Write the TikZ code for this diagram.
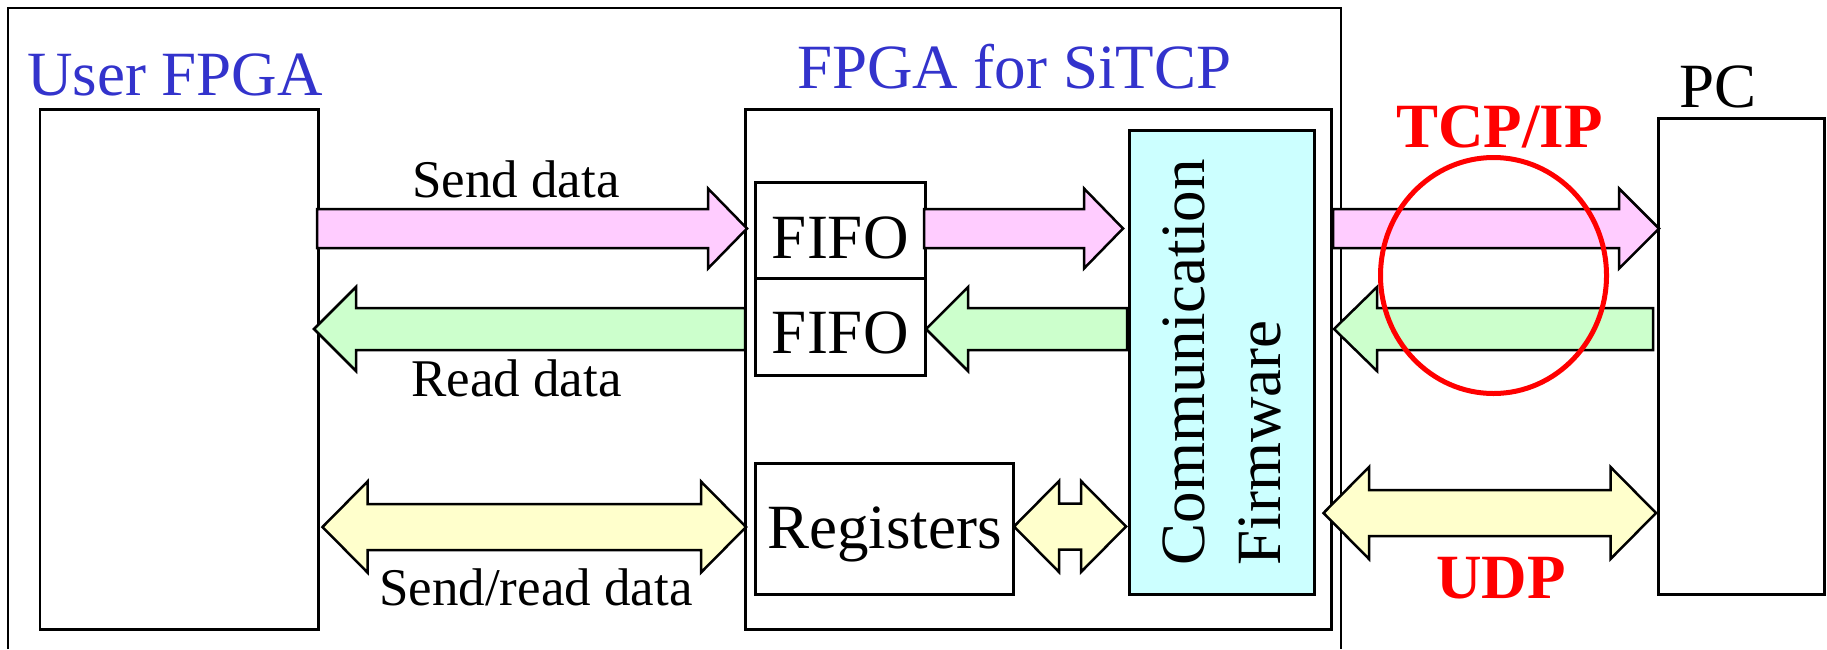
\documentclass[tikz,border=0pt]{standalone}
\usepackage{fontspec}
\setmainfont{Liberation Serif}
\usetikzlibrary{calc,shapes.geometric}
\definecolor{titleblue}{RGB}{51,51,204}
\definecolor{pinkfill}{RGB}{255,204,255}
\definecolor{greenfill}{RGB}{204,255,204}
\definecolor{yellowfill}{RGB}{255,255,204}
\definecolor{cyanfill}{RGB}{204,255,255}
\definecolor{markred}{RGB}{255,0,0}

% #1 fill, #2 from, #3 to (tip), #4 shaft half width, #5 head half width, #6 head length
\newcommand{\blkarrow}[6]{%
  \coordinate (ba-base) at ($(#3)!#6pt!(#2)$);
  \draw[arrowline, fill=#1] ($(#2)+(0,#4)$) -- ($(ba-base)+(0,#4)$) -- ($(ba-base)+(0,#5)$) -- (#3)
    -- ($(ba-base)+(0,-#5)$) -- ($(ba-base)+(0,-#4)$) -- ($(#2)+(0,-#4)$) -- cycle;
}
\newcommand{\dblarrowshape}[6]{%
  \coordinate (da-b1) at ($(#2)!#6pt!(#3)$);
  \coordinate (da-b2) at ($(#3)!#6pt!(#2)$);
  \draw[arrowline, fill=#1] (#2) -- ($(da-b1)+(0,#5)$) -- ($(da-b1)+(0,#4)$) -- ($(da-b2)+(0,#4)$)
    -- ($(da-b2)+(0,#5)$) -- (#3) -- ($(da-b2)+(0,-#5)$) -- ($(da-b2)+(0,-#4)$)
    -- ($(da-b1)+(0,-#4)$) -- ($(da-b1)+(0,-#5)$) -- cycle;
}

\begin{document}
\begin{tikzpicture}[x=1pt,y=-1pt,
  box/.style={draw=black, line width=2.5pt, fill=white, inner sep=0pt, anchor=north west},
  arrowline/.style={draw=black, line width=2.5pt, line join=miter},
  big/.style={font=\fontsize{63}{76}\selectfont, inner sep=0pt},
  small/.style={font=\fontsize{53}{64}\selectfont, inner sep=0pt},
  ]
\useasboundingbox (0,0) rectangle (1827,649);
\fill[white] (0,0) rectangle (1827,649);

% outer board
\draw[line width=2.5pt] (8,649) -- (8,8) -- (1341,8) -- (1341,649);

% boxes
\node[box, minimum width=278.5pt, minimum height=520pt] (user) at (38.5,108) {};
\node[box, minimum width=586pt, minimum height=520pt] (sitcp) at (744,108) {};
\node[box, minimum width=170pt, minimum height=96pt] (fifo1) at (754,181) {};
\node[box, minimum width=170pt, minimum height=97pt] (fifo2) at (754,277) {};
\node[box, minimum width=258pt, minimum height=131pt] (regs) at (754,462) {};
\node[box, fill=cyanfill, minimum width=185pt, minimum height=464pt] (comm) at (1128,129) {};
\node[box, minimum width=166pt, minimum height=476pt] (pc) at (1657,117) {};

% box texts
\node[big, anchor=base] (fifo1t) at ($(fifo1.center)+(0,28)$) {FIFO};
\node[big, anchor=base] (fifo2t) at ($(fifo2.center)+(0,27)$) {FIFO};
\node[big, anchor=base] (regst) at ($(regs.center)+(0,19.5)$) {Registers};
\node[big, rotate=90, align=left] (commt) at (comm.center) {Communication\\Firmware};

% titles and labels
\node[big, text=titleblue, anchor=base west] (userlbl) at (27,95) {User FPGA};
\node[big, text=titleblue, anchor=base west] (sitcplbl) at (797,88) {FPGA for SiTCP};
\node[big, anchor=base west] (pclbl) at (1679,107) {PC};
\node[small, anchor=base west] (sendlbl) at (412,197) {Send data};
\node[small, anchor=base west] (readlbl) at (411,396) {Read data};
\node[small, anchor=base west] (srlbl) at (379,605) {Send/read data};

% arrow end points
\coordinate (p1a) at (317,228.5);  \coordinate (p1b) at (747,228.5);
\coordinate (p2a) at (924,228.5);  \coordinate (p2b) at (1123,228.5);
\coordinate (p3a) at (1333,228.5); \coordinate (p3b) at (1659,228.5);
\coordinate (g1a) at (745,329);    \coordinate (g1b) at (314,329);
\coordinate (g2a) at (1127,329);   \coordinate (g2b) at (926,329);
\coordinate (g3a) at (1653,329);   \coordinate (g3b) at (1334,329);
\coordinate (y1a) at (322.5,527);  \coordinate (y1b) at (746,527);
\coordinate (y2a) at (1014,526.5); \coordinate (y2b) at (1126,526.5);
\coordinate (y3a) at (1323.5,513); \coordinate (y3b) at (1656,513);

% pink (send) arrows
\blkarrow{pinkfill}{p1a}{p1b}{19.5}{40}{39}
\blkarrow{pinkfill}{p2a}{p2b}{19.5}{40}{39}
\blkarrow{pinkfill}{p3a}{p3b}{19.5}{40}{40}
% green (read) arrows
\blkarrow{greenfill}{g1a}{g1b}{21}{42}{42}
\blkarrow{greenfill}{g2a}{g2b}{21}{42}{42}
\blkarrow{greenfill}{g3a}{g3b}{21}{42}{43}
% yellow (send/read) arrows
\dblarrowshape{yellowfill}{y1a}{y1b}{23}{45.5}{45}
\dblarrowshape{yellowfill}{y2a}{y2b}{23}{45.5}{45}
\dblarrowshape{yellowfill}{y3a}{y3b}{23}{46}{45.5}

% protocol marks
\node[draw=markred, line width=5pt, ellipse, inner sep=0pt, minimum width=226pt, minimum height=236pt] (tcpring) at (1493.5,275.5) {};
\node[big, text=markred, font=\fontsize{63}{76}\selectfont\bfseries, anchor=base west] (tcplbl) at (1396,147) {TCP/IP};
\node[big, text=markred, font=\fontsize{63}{76}\selectfont\bfseries, anchor=base west] (udplbl) at (1436,598) {UDP};
\end{tikzpicture}
\end{document}
